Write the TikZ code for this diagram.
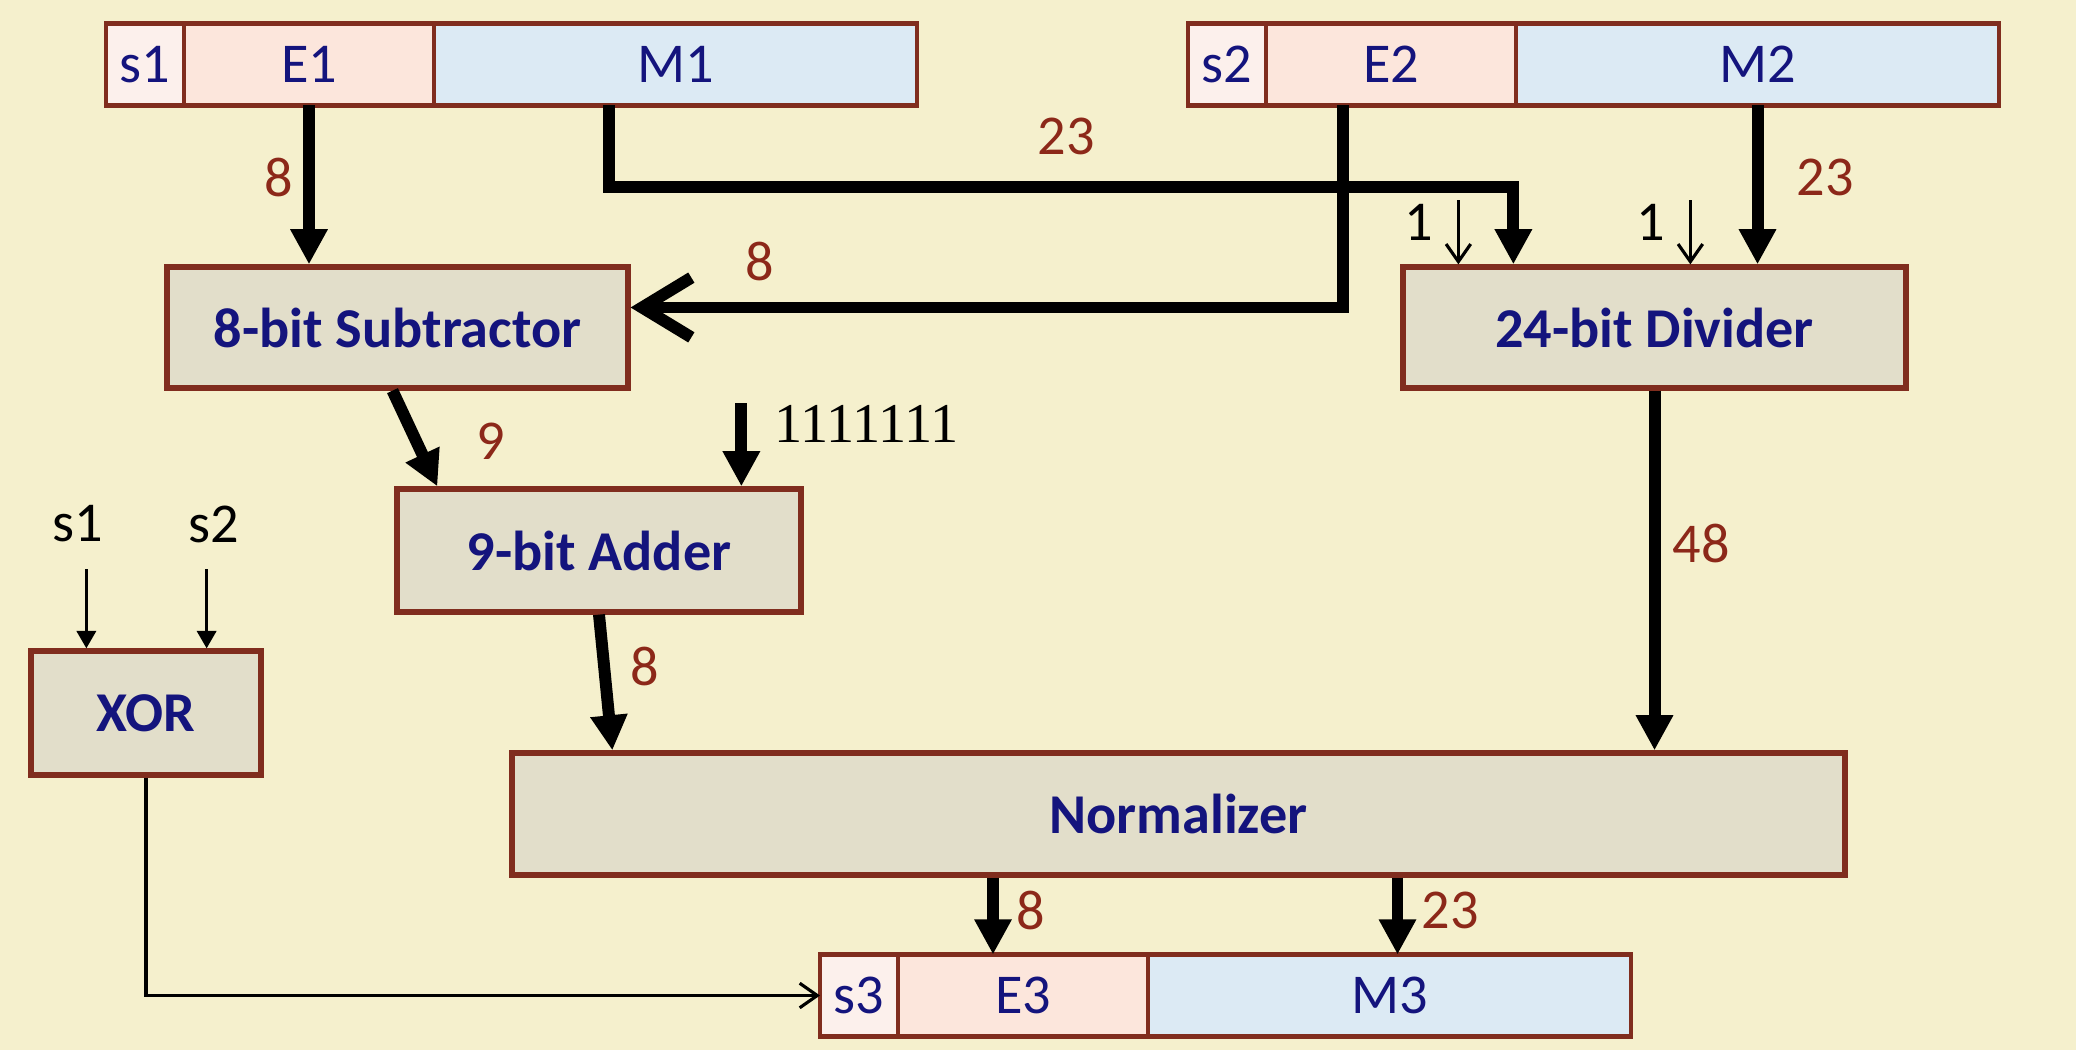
\documentclass[tikz,border=0pt]{standalone}
\usepackage{fontspec}
\setmainfont{Carlito}
\newfontfamily\serifnum{Liberation Serif}
\usetikzlibrary{positioning,arrows.meta,calc}

\definecolor{bgcream}{RGB}{245,240,205}
\definecolor{unitfill}{RGB}{226,222,202}
\definecolor{unitline}{RGB}{128,45,30}
\definecolor{sfill}{RGB}{252,240,236}
\definecolor{efill}{RGB}{252,230,220}
\definecolor{mfill}{RGB}{220,234,244}
\definecolor{navy}{RGB}{20,20,125}
\definecolor{widthred}{RGB}{140,40,25}

\tikzset{
  unit/.style={draw=unitline, line width=1.5pt, fill=unitfill, inner sep=0pt,
    text=navy, font=\bfseries\fontsize{16}{19}\selectfont},
  cell/.style={draw=unitline, line width=1.3pt, minimum height=0.82cm, inner sep=0pt,
    outer sep=0pt, text=navy, font=\fontsize{16}{19}\selectfont},
  bus/.style={line width=3.4pt, -{Triangle[length=10pt,width=10pt]}},
  wire/.style={line width=0.9pt, -{Straight Barb[length=5pt,width=7pt]}},
  bits/.style={text=widthred, font=\fontsize{16}{19}\selectfont},
  plain/.style={font=\fontsize{16}{19}\selectfont},
}

\begin{document}
\begin{tikzpicture}
  \fill[bgcream] (0,0) rectangle (20.76,10.5);
  \useasboundingbox (0,0) rectangle (20.76,10.5);

  % the three registers: sign, exponent, mantissa
  \foreach \i/\x/\y in {1/1.06/9.855, 2/11.88/9.855, 3/8.20/0.545}{
    \node[cell, fill=sfill, minimum width=0.78cm, anchor=west] (s\i) at (\x,\y) {s\i};
    \node[cell, fill=efill, minimum width=2.50cm, anchor=west] (e\i) at (s\i.east) {E\i};
    \node[cell, fill=mfill, minimum width=4.83cm, anchor=west] (m\i) at (e\i.east) {M\i};
  }

  \node[unit, minimum width=4.61cm, minimum height=1.21cm] (sub) at (3.975,7.225) {8-bit Subtractor};
  \node[unit, minimum width=5.03cm, minimum height=1.21cm] (div) at (16.545,7.225) {24-bit Divider};
  \node[unit, minimum width=4.04cm, minimum height=1.23cm] (add) at (5.99,4.995) {9-bit Adder};
  \node[unit, minimum width=2.30cm, minimum height=1.24cm] (xor) at (1.46,3.37) {XOR};
  \node[unit, minimum width=13.33cm, minimum height=1.22cm] (norm) at (11.785,2.36) {Normalizer};

  \coordinate (m1tap) at ($(m1.south west)+(1.75,0)$);
  \coordinate (e2tap) at ($(e2.south west)+(0.77,0)$);
  \coordinate (dinm) at ($(div.north west)+(1.13,0)$);
  \coordinate (done) at ($(div.north west)+(0.58,0.64)$);
  \coordinate (dtwo) at ($(div.north west)+(2.90,0.64)$);
  \coordinate (bias) at ($(add.north west)+(3.47,0.83)$);
  \coordinate (xa) at ($(xor.north west)+(0.58,0.79)$);
  \coordinate (xb) at ($(xor.north east)+(-0.57,0.79)$);
  \coordinate (e3in) at ($(e3.north west)+(0.95,0)$);
  \coordinate (m3in) at ($(m3.north)+(0.08,0)$);

  \draw[bus] (e1.south) -- (e1.south |- sub.north);
  \draw[bus] (m1tap) -- (m1tap |- 0,8.63) -| (dinm);
  \draw[bus, -{Straight Barb[length=14pt,width=17pt]}] (e2tap) |- ($(sub.east)+(0,0.2)$);
  \draw[bus] (m2.south) -- (m2.south |- div.north);
  \draw[wire] (done) -- (done |- div.north);
  \draw[wire] (dtwo) -- (dtwo |- div.north);
  \draw[bus] ($(sub.south)+(-0.05,0)$) -- ($(add.north west)+(0.43,0)$);
  \draw[bus] (bias) -- (bias |- add.north);
  \draw[bus] (add.south) -- ($(norm.north west)+(1.03,0)$);
  \draw[bus] (div.south) -- (div.south |- norm.north);
  \draw[wire, -{Triangle[length=5pt,width=5.5pt]}] (xa) -- (xa |- xor.north);
  \draw[wire, -{Triangle[length=5pt,width=5.5pt]}] (xb) -- (xb |- xor.north);
  \draw[wire] (xor.south) |- (s3.west);
  \draw[bus] (e3in |- norm.south) -- (e3in);
  \draw[bus] (m3in |- norm.south) -- (m3in);

  % bit widths
  \node[bits] (w1) at (2.79,8.72) {8};
  \node[bits] (w2) at (10.66,9.14) {23};
  \node[bits] (w3) at (7.60,7.89) {8};
  \node[bits] (w4) at (18.25,8.73) {23};
  \node[bits] (w5) at (4.91,6.09) {9};
  \node[bits] (w6) at (6.45,3.84) {8};
  \node[bits] (w7) at (17.01,5.07) {48};
  \node[bits] (w8) at (10.31,1.40) {8};
  \node[bits] (w9) at (14.50,1.40) {23};

  \node[plain] (one1) at (14.19,8.28) {1};
  \node[plain] (one2) at (16.51,8.28) {1};
  \node[plain, anchor=west, font=\serifnum\fontsize{16}{19}\selectfont] (ones) at (7.62,6.26) {1111111};
  \node[plain] (ls1) at (0.78,5.26) {s1};
  \node[plain] (ls2) at (2.14,5.26) {s2};
\end{tikzpicture}
\end{document}
